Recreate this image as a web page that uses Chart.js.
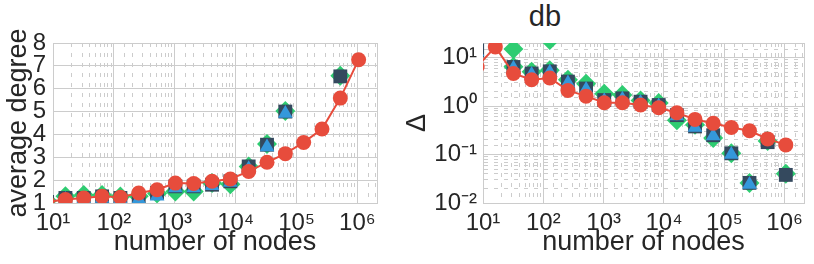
<!DOCTYPE html>
<html>
<head>
<meta charset="utf-8">
<script src="https://cdn.jsdelivr.net/npm/chart.js@4/dist/chart.umd.min.js"></script>
<style>
  body { margin: 0; background: #fff; width: 814px; height: 264px; position: relative; overflow: hidden;
         font-family: "Liberation Sans", Arial, sans-serif; }
  #degChart { position: absolute; left: 0; top: 0; }
  #deltaChart { position: absolute; left: 400px; top: 0; }
  #title { position: absolute; left: 505px; width: 80px; top: 0px; text-align: center;
           font-size: 29px; color: #262626; }
</style>
</head>
<body>
<div id="title">db</div>
<canvas id="degChart" width="400" height="264"></canvas>
<canvas id="deltaChart" width="414" height="264"></canvas>
<script>
// number of nodes (x values)
const nodes = [8, 16, 32, 64, 128, 256, 512, 1024, 2048, 4096, 8192, 16384, 32768, 65536, 131072, 262144, 524288, 1048576];

// left panel: average degree
const degRed   = [1.05, 1.15, 1.22, 1.29, 1.25, 1.44, 1.58, 1.87, 1.85, 1.95, 2.05, 2.38, 2.78, 3.16, 3.65, 4.24, 5.59, 7.27];
const degDark  = [1.05, 1.22, 1.22, 1.29, 1.22, 1.22, 1.44, 1.73, 1.73, 1.8, 1.95, 2.6, 3.55, 5.0, null, null, 6.54, null];
const degBlue  = [1.0, 1.15, 1.17, 1.2, 1.15, 1.15, 1.3, 1.66, 1.66, 1.75, 1.9, 2.5, 3.45, 4.92, null, null, null, null];
const degGreen = [1.1, 1.3, 1.35, 1.35, 1.28, 1.3, 1.42, 1.5, 1.5, 1.87, 1.82, 2.6, 3.58, 5.02, null, null, 6.57, null];

// right panel: delta
const dltRed  = [6.5, 16.6, 4.7, 3.5, 3.8, 2.1, 1.6, 1.17, 1.17, 1.05, 0.92, 0.73, 0.53, 0.44, 0.36, 0.31, 0.21, 0.158];
const dltDark = [14, null, 6.4, 4.7, 5.2, 3.2, 2.3, 1.33, 1.44, 1.23, 1.05, 0.65, 0.38, 0.25, 0.106, 0.026, 0.18, 0.038];
const dltBlue = [13, null, 6.0, 4.5, 5.0, 3.0, 2.2, 1.28, 1.38, 1.18, 1.0, 0.62, 0.36, 0.24, 0.10, 0.024, null, null];
const dltGreenNodes = [32, 32, 64, 128, 128, 256, 512, 1024, 2048, 4096, 8192, 16384, 32768, 65536, 131072, 262144, 524288, 1048576];
const dltGreen      = [15, 6.5, 5.1, 23, 5.5, 3.5, 2.9, 1.8, 1.7, 1.3, 1.15, 0.51, 0.41, 0.22, 0.106, 0.026, 0.19, 0.04];

// tick labels
const xTickValues = [10, 100, 1000, 10000, 100000, 1000000];
const xTickLabels = ['10¹', '10²', '10³', '10⁴', '10⁵', '10⁶'];
const yDegTicks = [1, 2, 3, 4, 5, 6, 7, 8];
const yDltTickValues = [0.01, 0.1, 1, 10];
const yDltTickLabels = ['10⁻²', '10⁻¹', '10⁰', '10¹'];

const GREEN = '#2ecc71', BLUE = '#3498db', DARK = '#34495e', RED = '#e74c3c';
const GRID = '#cccccc', TEXT = '#262626';
const FONT = '"Liberation Sans", Arial, sans-serif';

function pts(xs, ys) {
  return xs.map((x, i) => ({ x, y: ys[i] })).filter(p => p.y !== null);
}

function isMajor(ctx) {
  if (!ctx.tick) return true;
  const scale = ctx.scale;
  const v = ctx.tick.value;
  if (v === scale.min || v === scale.max) return true;
  if (scale.type !== 'logarithmic') return true;
  const l = Math.log10(v);
  return Math.abs(l - Math.round(l)) < 1e-9;
}

function labelFrom(values, labels) {
  return function (v) {
    const i = values.findIndex(t => Math.abs(t - v) / t < 1e-9);
    return i >= 0 ? labels[i] : '';
  };
}

function gridOpts() {
  return { color: GRID, lineWidth: 1, drawTicks: false };
}
function borderOpts() {
  return {
    color: GRID,
    width: 1,
    dash: ctx => (isMajor(ctx) ? [] : [4, 6])
  };
}

function markerSets(red, blue, dark, green) {
  return [
    { data: red, borderColor: RED, backgroundColor: RED, borderWidth: 2, showLine: true,
      pointRadius: 7.5, pointStyle: 'circle', pointBorderWidth: 0, pointBackgroundColor: RED, clip: 0 },
    { data: blue, showLine: false, pointRadius: 8.5, pointStyle: 'triangle', pointBorderWidth: 0,
      pointBackgroundColor: BLUE, clip: 0 },
    { data: dark, showLine: false, pointRadius: 9.8, pointStyle: 'rect', pointBorderWidth: 0,
      pointBackgroundColor: DARK, clip: 0 },
    { data: green, showLine: false, pointRadius: 10, pointStyle: 'rectRot', pointBorderWidth: 0,
      pointBackgroundColor: GREEN, clip: 0 }
  ];
}

function xScale() {
  return {
    type: 'logarithmic', min: 10, max: 2.1e6,
    afterFit: s => { s.height = 61; },
    grid: gridOpts(), border: borderOpts(),
    ticks: { autoSkip: false, maxRotation: 0, padding: 6, color: TEXT,
             font: { family: FONT, size: 24 }, callback: labelFrom(xTickValues, xTickLabels) },
    title: { display: true, text: 'number of nodes', color: TEXT,
             font: { family: FONT, size: 27 }, padding: { top: 0, bottom: 5 } }
  };
}

function baseOptions(yScale, padRight) {
  return {
    responsive: false,
    animation: false,
    layout: { padding: { left: 0, top: 43, right: padRight, bottom: 0 } },
    plugins: { legend: { display: false }, tooltip: { enabled: false } },
    scales: { x: xScale(), y: yScale }
  };
}

new Chart(document.getElementById('degChart'), {
  type: 'line',
  data: { datasets: markerSets(pts(nodes, degRed), pts(nodes, degBlue), pts(nodes, degDark), pts(nodes, degGreen)) },
  options: baseOptions({
    type: 'linear', min: 1, max: 8,
    afterFit: s => { s.width = 53; },
    grid: gridOpts(), border: borderOpts(),
    ticks: { stepSize: 1, autoSkip: false, padding: 7, color: TEXT, font: { family: FONT, size: 24 },
             callback: v => (yDegTicks.includes(v) ? String(v) : '') },
    title: { display: true, text: 'average degree', color: TEXT,
             font: { family: FONT, size: 27 }, padding: { top: 2, bottom: 0 } }
  }, 23)
});

new Chart(document.getElementById('deltaChart'), {
  type: 'line',
  data: { datasets: markerSets(pts(nodes, dltRed), pts(nodes, dltBlue), pts(nodes, dltDark), pts(dltGreenNodes, dltGreen)) },
  options: baseOptions({
    type: 'logarithmic', min: 0.01, max: 20,
    afterFit: s => { s.width = 83; },
    grid: gridOpts(), border: borderOpts(),
    ticks: { autoSkip: false, padding: 6, color: TEXT, font: { family: FONT, size: 24 },
             callback: labelFrom(yDltTickValues, yDltTickLabels) },
    title: { display: true, text: 'Δ', color: TEXT,
             font: { family: FONT, size: 27 }, padding: { top: 1, bottom: 0 } }
  }, 8)
});
</script>
</body>
</html>
